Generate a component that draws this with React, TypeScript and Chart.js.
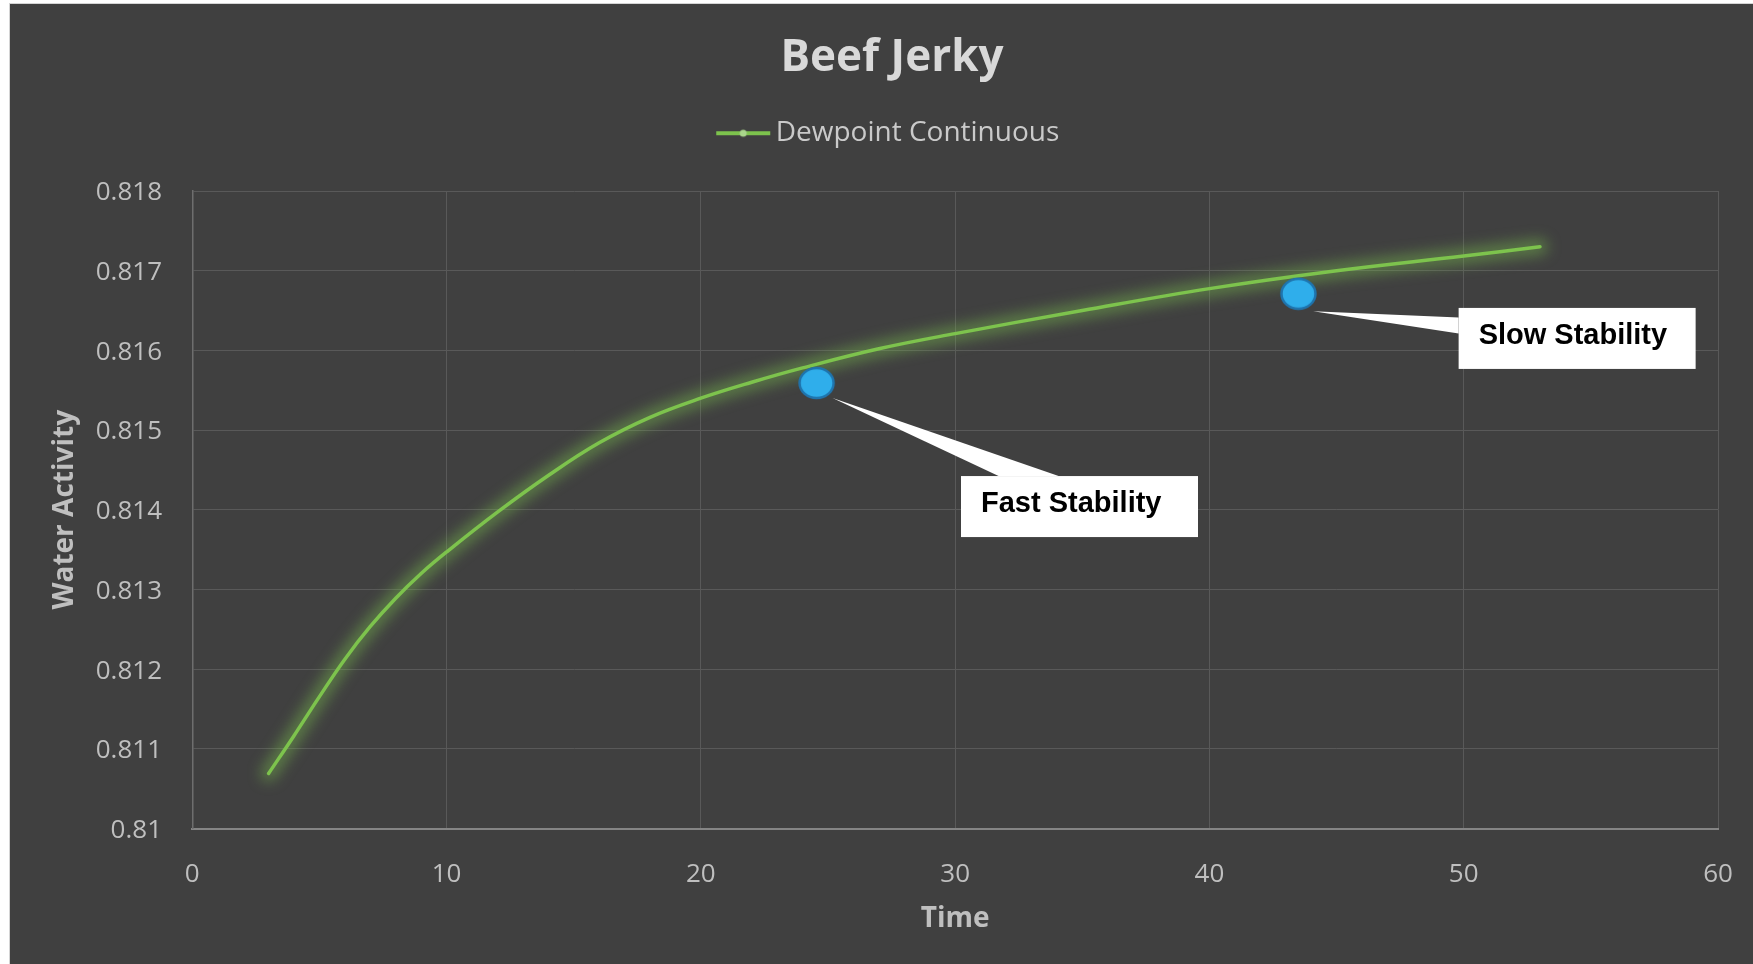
import React, { useEffect, useRef } from 'react';
import { Chart, registerables } from 'chart.js';

Chart.register(...registerables);

// ---------- data ----------
const chartTitle = 'Beef Jerky';
const seriesName = 'Dewpoint Continuous';
const xTitle = 'Time';
const yTitle = 'Water Activity';

const times = [3, 4, 5, 6, 7, 8, 9, 10, 12, 14, 16, 18, 20, 22, 24, 27, 30, 35, 40, 45, 50, 53];
const waterActivity = [
  0.81069, 0.811165, 0.811655, 0.812125, 0.812535, 0.81289, 0.8132, 0.81347, 0.81397, 0.81443,
  0.81484, 0.81516, 0.8154, 0.8156, 0.81578, 0.81602, 0.81621, 0.8165, 0.816775, 0.817,
  0.817185, 0.8173,
];

const markerTimes = [24.55, 43.5];
const markerValues = [0.81559, 0.81671];

const calloutLabels = ['Fast Stability', 'Slow Stability'];
const calloutBoxTimes = [34.89, 54.46];
const calloutBoxValues = [0.81404, 0.81615];

const xTicks = [0, 10, 20, 30, 40, 50, 60];
const yTicks = [0.81, 0.811, 0.812, 0.813, 0.814, 0.815, 0.816, 0.817, 0.818];

// ---------- styles ----------
const W = 1743;
const H = 960;
const PAD_LEFT = 56;
const FONT = "'Open Sans', 'Noto Sans', sans-serif";
const COLORS = {
  line: '#7DC34D',
  glow: 'rgba(125, 195, 77, 0.45)',
  legendDot: '#AAD68C',
  marker: '#2FAEEB',
  markerEdge: '#1F74AD',
  title: '#D9D9D9',
  legend: '#CACACA',
  tick: '#BFBFBF',
  grid: '#595959',
};
const calloutStyle = {
  boxW: 237,
  boxH: 61,
  textPadX: 20,
  textDy: -2.5,
  font: "bold 29px 'Liberation Sans', Arial, sans-serif",
};
const calloutPointers = [
  { tip: [16, 15], base: [[37.6, 0], [97.6, 0]] },
  { tip: [14.7, 17.4], base: [[0, 9.6], [0, 25.6]] },
];

function makeLegendImage() {
  const c = document.createElement('canvas');
  c.width = 56;
  c.height = 14;
  const g = c.getContext('2d')!;
  g.strokeStyle = COLORS.line;
  g.lineWidth = 4;
  g.beginPath();
  g.moveTo(1, 7);
  g.lineTo(55, 7);
  g.stroke();
  g.fillStyle = COLORS.legendDot;
  g.beginPath();
  g.arc(28, 7, 3.5, 0, Math.PI * 2);
  g.fill();
  return c;
}

function makeMarkerImage() {
  const c = document.createElement('canvas');
  c.width = 39;
  c.height = 34;
  const g = c.getContext('2d')!;
  g.fillStyle = COLORS.marker;
  g.strokeStyle = COLORS.markerEdge;
  g.lineWidth = 2.5;
  g.beginPath();
  g.ellipse(19.5, 17, 17, 15, 0, 0, Math.PI * 2);
  g.fill();
  g.stroke();
  return c;
}

// soft halo drawn under the series line
const glowPlugin = {
  id: 'glow',
  beforeDatasetDraw(chart: any, args: any) {
    if (args.index !== 0) return;
    const line = chart.getDatasetMeta(0).dataset;
    if (!line) return;
    const ctx = chart.ctx;
    ctx.save();
    ctx.filter = 'blur(7px)';
    ctx.strokeStyle = COLORS.glow;
    ctx.lineWidth = 16;
    ctx.lineCap = 'round';
    ctx.lineJoin = 'round';
    line.updateControlPoints(chart.chartArea, 'x');
    ctx.beginPath();
    line.path(ctx);
    ctx.stroke();
    ctx.restore();
  },
};

const calloutPlugin = {
  id: 'callouts',
  afterDatasetsDraw(chart: any) {
    const { ctx } = chart;
    const x = chart.scales.x;
    const y = chart.scales.y;
    const S = calloutStyle;
    ctx.save();
    calloutLabels.forEach((label, i) => {
      const mx = x.getPixelForValue(markerTimes[i]);
      const my = y.getPixelForValue(markerValues[i]);
      const cx = x.getPixelForValue(calloutBoxTimes[i]);
      const cy = y.getPixelForValue(calloutBoxValues[i]);
      const bx = cx - S.boxW / 2;
      const by = cy - S.boxH / 2;
      const p = calloutPointers[i];
      ctx.fillStyle = '#FFFFFF';
      ctx.beginPath();
      ctx.moveTo(mx + p.tip[0], my + p.tip[1]);
      ctx.lineTo(bx + p.base[0][0], by + p.base[0][1]);
      ctx.lineTo(bx + p.base[1][0], by + p.base[1][1]);
      ctx.closePath();
      ctx.fill();
      ctx.fillRect(bx, by, S.boxW, S.boxH);
      ctx.fillStyle = '#000000';
      ctx.font = S.font;
      ctx.textAlign = 'left';
      ctx.textBaseline = 'middle';
      ctx.fillText(label, bx + S.textPadX, cy + S.textDy);
    });
    ctx.restore();
  },
};

export default function App() {
  const ref = useRef<HTMLCanvasElement>(null);

  useEffect(() => {
    const canvas = ref.current!;
    const legendImg = makeLegendImage();
    const markerImg = makeMarkerImage();
    const tickFont = { family: FONT, size: 26 };
    const axisTitleFont = { family: FONT, size: 28, weight: 'bold' as const, lineHeight: 1.2 };

    const chart = new Chart(canvas, {
      type: 'line',
      data: {
        datasets: [
          {
            label: seriesName,
            data: times.map((t, i) => ({ x: t, y: waterActivity[i] })),
            borderColor: COLORS.line,
            backgroundColor: COLORS.line,
            borderWidth: 3.5,
            borderCapStyle: 'round',
            pointRadius: 0,
            pointStyle: legendImg as any,
            tension: 0.4,
            fill: false,
            order: 1,
          },
          {
            label: 'Markers',
            type: 'scatter',
            data: markerTimes.map((t, i) => ({ x: t, y: markerValues[i] })),
            pointStyle: markerImg as any,
            pointRadius: 16,
            showLine: false,
            order: 0,
          } as any,
        ],
      },
      options: {
        responsive: false,
        animation: false,
        devicePixelRatio: 1,
        events: [],
        layout: { padding: { left: PAD_LEFT, right: 35, top: 0, bottom: 0 } },
        plugins: {
          title: {
            display: true,
            text: chartTitle,
            color: COLORS.title,
            font: { family: FONT, size: 44, weight: 'bold', lineHeight: 1.2 },
            padding: { top: 27.6, bottom: 24.8 },
          },
          legend: {
            display: true,
            position: 'top',
            labels: {
              usePointStyle: true,
              pointStyleWidth: 37,
              color: COLORS.legend,
              font: { family: FONT, size: 28 },
              padding: 10,
              filter: (item: any) => item.datasetIndex === 0,
            },
          },
          subtitle: {
            display: true,
            text: ' ',
            font: { size: 1, lineHeight: 1.2 },
            padding: { top: 32.6, bottom: 0 },
            weight: 100,
          } as any,
          tooltip: { enabled: false },
        },
        scales: {
          x: {
            type: 'linear',
            min: 0,
            max: 60,
            afterBuildTicks: (s: any) => {
              s.ticks = xTicks.map((v) => ({ value: v }));
            },
            afterFit: (s: any) => {
              s.height = 135.5;
              s.paddingLeft = 10;
              s.paddingRight = 10;
            },
            ticks: {
              color: COLORS.tick,
              font: tickFont,
              padding: 30,
              maxRotation: 0,
              autoSkip: false,
              callback: (v: any) => String(v),
            },
            grid: { color: COLORS.grid, lineWidth: 1, drawTicks: false },
            border: { color: '#858585', width: 2 },
            title: {
              display: true,
              text: xTitle,
              color: COLORS.tick,
              font: axisTitleFont,
              padding: { top: 0, bottom: 28 },
            },
          },
          y: {
            type: 'linear',
            min: 0.81,
            max: 0.818,
            afterBuildTicks: (s: any) => {
              s.ticks = yTicks.map((v) => ({ value: v }));
            },
            afterFit: (s: any) => {
              s.width = 182.3 - PAD_LEFT;
            },
            ticks: {
              color: COLORS.tick,
              font: tickFont,
              padding: 30.3,
              labelOffset: 2,
              autoSkip: false,
              callback: (v: any) => String(v),
            },
            grid: { color: COLORS.grid, lineWidth: 1, drawTicks: false },
            border: { color: '#6E6E6E', width: 1.5 },
            title: {
              display: true,
              text: yTitle,
              color: COLORS.tick,
              font: axisTitleFont,
              padding: { top: 55 - PAD_LEFT - 16.8, bottom: 0 },
            },
          },
        },
      },
      plugins: [glowPlugin, calloutPlugin],
    } as any);

    return () => chart.destroy();
  }, []);

  return (
    <div
      style={{
        position: 'absolute',
        left: 9,
        top: 3,
        width: W + 1,
        height: H + 1,
        boxSizing: 'border-box',
        borderLeft: '1px solid #d4d4d4',
        borderTop: '1px solid #d4d4d4',
        background: '#404040',
        overflow: 'hidden',
      }}
    >
      <canvas ref={ref} width={W} height={H} style={{ display: 'block', width: W, height: H }} />
    </div>
  );
}
